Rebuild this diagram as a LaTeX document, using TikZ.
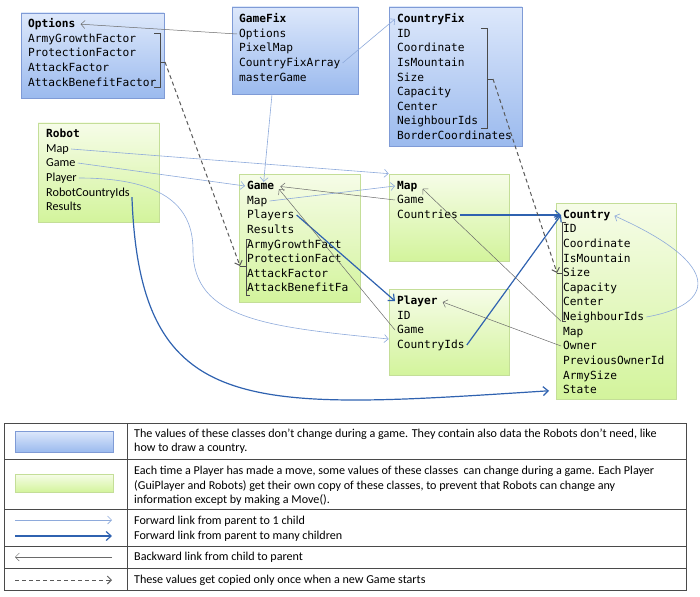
\documentclass[tikz,border=0pt]{standalone}
\usepackage{fontspec}
\setmainfont{Carlito}
\setmonofont{DejaVu Sans Mono}
\usetikzlibrary{arrows.meta,fit,shadows}
\definecolor{fixtop}{HTML}{DDE8FB}
\definecolor{fixbot}{HTML}{9BBAEE}
\definecolor{fixline}{HTML}{7F9BD6}
\definecolor{vartop}{HTML}{F6FCE8}
\definecolor{varbot}{HTML}{D3F49C}
\definecolor{varline}{HTML}{C4DE98}
\definecolor{onelink}{HTML}{8EAADB}
\definecolor{manylink}{HTML}{2F62B0}
\definecolor{backgray}{HTML}{6A6A6A}
\definecolor{copygray}{HTML}{5A5A5A}
\definecolor{gridgray}{HTML}{4A4A4A}
\tikzset{
    fixbox/.style={draw=fixline, line width=0.7pt, top color=fixtop, bottom color=fixbot, inner sep=0pt,
        drop shadow={shadow xshift=0.8pt, shadow yshift=-1.2pt, opacity=0.25}},
    varbox/.style={draw=varline, line width=0.7pt, top color=vartop, bottom color=varbot, inner sep=0pt,
        drop shadow={shadow xshift=0.8pt, shadow yshift=-1.2pt, opacity=0.25}},
    member/.style={anchor=west, inner xsep=2pt, inner ysep=0pt, text height=7.5pt, text depth=0.5pt,
        font=\ttfamily\fontsize{11.2}{13}\selectfont},
    classname/.style={member, font=\ttfamily\bfseries\fontsize{11.2}{13}\selectfont},
    robmember/.style={member, font=\fontsize{12.2}{14}\selectfont},
    legtext/.style={member, font=\fontsize{12.1}{14}\selectfont},
    fwdone/.style={draw=onelink, line width=0.6pt, -{Straight Barb[length=4pt,width=8pt]}},
    fwdmany/.style={draw=manylink, line width=1.2pt, -{Straight Barb[length=5pt,width=9pt]}},
    backlink/.style={draw=backgray, line width=0.5pt, -{Straight Barb[length=4pt,width=8pt]}},
    copied/.style={draw=copygray, line width=1pt, dash pattern=on 4pt off 3pt, -{Straight Barb[length=4pt,width=8pt]}},
    bracket/.style={draw=gridgray, line width=0.7pt},
}

\begin{document}
\begin{tikzpicture}[x=1pt, y=-1pt]
    \useasboundingbox (0,0) rectangle (700,596);

    \node (optbox) [fixbox, fit={(21,13) (164,98)}] {};
    \node (gfbox) [fixbox, fit={(232,7) (358,94)}] {};
    \node (cfbox) [fixbox, fit={(389,7) (522,146)}] {};
    \node (robbox) [varbox, fit={(38,123) (159,222)}] {};
    \node (gmbox) [varbox, fit={(239,174) (360,302)}] {};
    \node (mpbox) [varbox, fit={(389,174) (509,261)}] {};
    \node (plbox) [varbox, fit={(389,289) (509,375)}] {};
    \node (cobox) [varbox, fit={(556,203) (676,399)}] {};

    \node (optname) at (26,24) [classname] {Options};
    \node (optgrowth) at (26,39) [member] {ArmyGrowthFactor};
    \node (optprot) at (26,53) [member] {ProtectionFactor};
    \node (optattack) at (26,68) [member] {AttackFactor};
    \node (optbenefit) at (26,83) [member] {AttackBenefitFactor};

    \node (gfname) at (237,19) [classname] {GameFix};
    \node (gfoptions) at (237,34) [member] {Options};
    \node (gfpixel) at (237,48) [member] {PixelMap};
    \node (gfcfa) at (237,63) [member] {CountryFixArray};
    \node (gfmaster) at (237,78) [member] {masterGame};

    \node (cfname) at (395,19) [classname] {CountryFix};
    \node (cfid) at (395,34) [member] {ID};
    \node (cfcoord) at (395,48) [member] {Coordinate};
    \node (cfmount) at (395,63) [member] {IsMountain};
    \node (cfsize) at (395,78) [member] {Size};
    \node (cfcap) at (395,92) [member] {Capacity};
    \node (cfcenter) at (395,107) [member] {Center};
    \node (cfneigh) at (395,121) [member] {NeighbourIds};
    \node (cfborder) at (395,136) [member] {BorderCoordinates};

    \node (robname) at (44,134) [classname] {Robot};
    \node (robmap) at (44,149) [robmember] {Map};
    \node (robgame) at (44,163) [robmember] {Game};
    \node (robplayer) at (44,178) [robmember] {Player};
    \node (robcids) at (44,193) [robmember] {RobotCountryIds};
    \node (robresults) at (44,207) [robmember] {Results};

    \node (gmname) at (245,186) [classname] {Game};
    \node (gmmap) at (245,201) [member] {Map};
    \node (gmplayers) at (245,215) [member] {Players};
    \node (gmresults) at (245,230) [member] {Results};
    \node (gmgrowth) at (245,245) [member] {ArmyGrowthFact};
    \node (gmprot) at (245,259) [member] {ProtectionFact};
    \node (gmattack) at (245,274) [member] {AttackFactor};
    \node (gmbenefit) at (245,288) [member] {AttackBenefitFa};

    \node (mpname) at (395,186) [classname] {Map};
    \node (mpgame) at (395,200) [member] {Game};
    \node (mpcountries) at (395,215) [member] {Countries};

    \node (plname) at (395,301) [classname] {Player};
    \node (plid) at (395,316) [member] {ID};
    \node (plgame) at (395,330) [member] {Game};
    \node (plcids) at (395,345) [member] {CountryIds};

    \node (coname) at (561,215) [classname] {Country};
    \node (coid) at (561,229) [member] {ID};
    \node (cocoord) at (561,244) [member] {Coordinate};
    \node (comount) at (561,259) [member] {IsMountain};
    \node (cosize) at (561,273) [member] {Size};
    \node (cocap) at (561,288) [member] {Capacity};
    \node (cocenter) at (561,302) [member] {Center};
    \node (coneigh) at (561,317) [member] {NeighbourIds};
    \node (comap) at (561,332) [member] {Map};
    \node (coowner) at (561,346) [member] {Owner};
    \node (coprev) at (561,361) [member] {PreviousOwnerId};
    \node (coarmy) at (561,376) [member] {ArmySize};
    \node (costate) at (561,390) [member] {State};

    \coordinate (optcopy) at (165,62);
    \coordinate (gmcopy) at (240,266);
    \coordinate (cfcopy) at (493,79);
    \coordinate (cocopy) at (557,273);
    \draw[bracket] (154,33) -- (160,33) -- (160,87) -- (154,87);
    \draw[bracket] (160,62) -- (optcopy);
    \draw[bracket] (481,28) -- (487,28) -- (487,128) -- (481,128);
    \draw[bracket] (487,79) -- (cfcopy);
    \draw[bracket] (250,239) -- (246,239) -- (246,295) -- (250,295);
    \draw[bracket] (246,266) -- (gmcopy);
    \draw[bracket] (566,222) -- (562,222) -- (562,321) -- (566,321);
    \draw[bracket] (562,273) -- (cocopy);

    \draw[backlink, shorten >=3pt] (gfoptions.west) -- (optname.east);
    \draw[fwdone] (gfcfa.east) -- (cfname.west);
    \draw[fwdone] ([xshift=-23pt]gfbox.south) -- ([xshift=3pt]gmname.north);
    \draw[fwdone] (robmap.east) -- (mpbox.north west);
    \draw[fwdone] (robgame.east) -- (gmname.west);
    \draw[fwdone] (robplayer.east) .. controls +(90,0) and +(0,-40) .. (193,250)
        .. controls +(0,70) and +(-120,-12) .. ([yshift=-7pt]plbox.west);
    \draw[fwdmany, shorten >=12pt] (robcids.south east) .. controls (140,420) and (250,410) .. (costate.west);
    \draw[fwdone] (gmmap.east) -- (mpname.west);
    \draw[backlink, shorten >=4pt] (mpgame.west) -- (gmname.east);
    \draw[fwdmany] (gmplayers.east) -- (plname.west);
    \draw[backlink, shorten >=4pt] (plgame.west) -- (gmname.east);
    \draw[fwdmany] (mpcountries.east) -- (coname.west);
    \draw[fwdmany] (plcids.east) -- (coname.west);
    \draw[backlink, shorten >=4pt] (coneigh.south west) -- (mpname.east);
    \draw[backlink, shorten >=3pt] (coowner.west) -- (plname.east);
    \draw[fwdone, shorten >=2pt] (coneigh.east) .. controls (715,305) and (725,265) .. (coname.east);
    \draw[copied] (optcopy) -- (gmcopy);
    \draw[copied] (cfcopy) -- (cocopy);

    \draw[gridgray, line width=0.8pt] (4,423) rectangle (686,590);
    \draw[gridgray, line width=0.8pt] (127,423) -- (127,590);
    \draw[gridgray, line width=0.8pt] (4,459) -- (686,459);
    \draw[gridgray, line width=0.8pt] (4,509) -- (686,509);
    \draw[gridgray, line width=0.8pt] (4,546) -- (686,546);
    \draw[gridgray, line width=0.8pt] (4,568) -- (686,568);

    \node (legfix) [fixbox, fit={(15,431) (113,452)}] {};
    \node (legvar) [varbox, fit={(15,474) (113,492)}] {};
    \coordinate (lgonea) at (15,520);
    \coordinate (lgoneb) at (112,520);
    \coordinate (lgmanya) at (15,536);
    \coordinate (lgmanyb) at (112,536);
    \coordinate (lgbacka) at (112,557);
    \coordinate (lgbackb) at (15,557);
    \coordinate (lgcopya) at (15,580);
    \coordinate (lgcopyb) at (112,580);
    \draw[fwdone] (lgonea) -- (lgoneb);
    \draw[fwdmany] (lgmanya) -- (lgmanyb);
    \draw[backlink] (lgbacka) -- (lgbackb);
    \draw[copied] (lgcopya) -- (lgcopyb);

    \node (legfixa) at (132,434) [legtext] {The values of these classes don’t change during a game. They contain also data the Robots don’t need, like};
    \node (legfixb) at (132,448) [legtext] {how to draw a country.};
    \node (legvara) at (132,471) [legtext] {Each time a Player has made a move, some values of these classes\ \ can change during a game. Each Player};
    \node (legvarb) at (132,486) [legtext] {(GuiPlayer and Robots) get their own copy of these classes, to prevent that Robots can change any};
    \node (legvarc) at (132,500) [legtext] {information except by making a Move().};
    \node (legone) at (132,521) [legtext] {Forward link from parent to 1 child};
    \node (legmany) at (132,536) [legtext] {Forward link from parent to many children};
    \node (legback) at (132,557) [legtext] {Backward link from child to parent};
    \node (legcopy) at (132,580) [legtext] {These values get copied only once when a new Game starts};
\end{tikzpicture}
\end{document}
